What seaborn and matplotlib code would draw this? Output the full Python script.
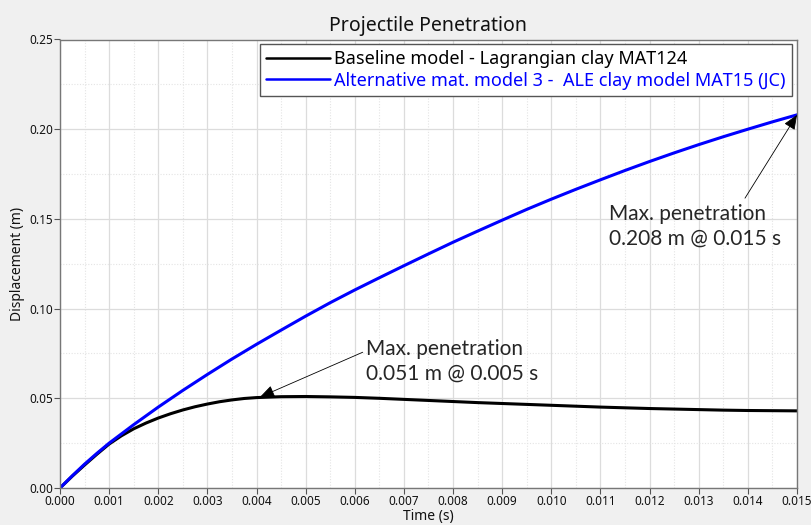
import matplotlib
matplotlib.use("Agg")
import matplotlib.pyplot as plt
from matplotlib.ticker import MultipleLocator, FormatStrFormatter
import seaborn as sns
import pandas as pd

time_base = [0.0, 0.00025, 0.0005, 0.00075, 0.001, 0.00125, 0.0015, 0.00175, 0.002, 0.00225,
             0.0025, 0.00275, 0.003, 0.00325, 0.0035, 0.00375, 0.004, 0.0045,
             0.005, 0.0055, 0.006, 0.0065, 0.007, 0.0075, 0.008, 0.0085, 0.009, 0.0095,
             0.010, 0.0105, 0.011, 0.0115, 0.012, 0.0125, 0.013, 0.0135, 0.014, 0.0145, 0.015]
baseline = [0.0, 0.0066, 0.0128, 0.0188, 0.0245, 0.0291, 0.0330, 0.0362, 0.0390, 0.0414,
            0.0435, 0.0453, 0.0468, 0.0481, 0.0491, 0.0499, 0.0504, 0.0509,
            0.0510, 0.0508, 0.0505, 0.0500, 0.0494, 0.0488, 0.0482, 0.0476, 0.0471, 0.0466,
            0.0461, 0.0456, 0.0451, 0.0447, 0.0443, 0.0440, 0.0437, 0.0434, 0.0432, 0.0431, 0.0430]
time_alt = [0.0, 0.00025, 0.0005, 0.00075, 0.001, 0.0015, 0.002, 0.0025, 0.003, 0.0035, 0.004, 0.0045,
            0.005, 0.0055, 0.006, 0.0065, 0.007, 0.0075, 0.008, 0.0085, 0.009, 0.0095,
            0.010, 0.0105, 0.011, 0.0115, 0.012, 0.0125, 0.013, 0.0135, 0.014, 0.0145, 0.015]
alternative = [0.0, 0.0068, 0.0133, 0.0193, 0.0250, 0.0353, 0.0451, 0.0544, 0.0633, 0.0719, 0.0801, 0.0880,
               0.0958, 0.1033, 0.1104, 0.1172, 0.1239, 0.1305, 0.1370, 0.1432, 0.1493, 0.1553,
               0.1610, 0.1665, 0.1718, 0.1770, 0.1820, 0.1868, 0.1914, 0.1958, 0.2000, 0.2041, 0.2080]
series_names = ["Baseline model - Lagrangian clay MAT124",
                "Alternative mat. model 3 -  ALE clay model MAT15 (JC)"]
series_colors = ["#000000", "#0000ff"]
ann_texts = ["Max. penetration\n0.051 m @ 0.005 s", "Max. penetration\n0.208 m @ 0.015 s"]
ann_points = [(0.00407, 0.0507), (0.015, 0.208)]

df = pd.concat([
    pd.DataFrame({"Time (s)": time_base, "Displacement (m)": baseline, "Model": series_names[0]}),
    pd.DataFrame({"Time (s)": time_alt, "Displacement (m)": alternative, "Model": series_names[1]}),
])

sns.set_theme(style="white")
plt.rcParams['font.family'] = ['Noto Sans', 'DejaVu Sans']

fig = plt.figure(figsize=(8.12, 5.25), dpi=100, facecolor="#f0f0f0")
ax = fig.add_axes([60/812, 1-488/525, 737/812, 448.5/525])
ax.set_facecolor("white")

sns.lineplot(data=df, x="Time (s)", y="Displacement (m)", hue="Model",
             palette=dict(zip(series_names, series_colors)), linewidth=2.2, ax=ax,
             legend=True, sort=False)

ax.set_xlim(0, 0.015)
ax.set_ylim(0, 0.25)
ax.xaxis.set_major_locator(MultipleLocator(0.001))
ax.xaxis.set_minor_locator(MultipleLocator(0.0005))
ax.yaxis.set_major_locator(MultipleLocator(0.05))
ax.yaxis.set_minor_locator(MultipleLocator(0.025))
ax.xaxis.set_major_formatter(FormatStrFormatter("%.3f"))
ax.yaxis.set_major_formatter(FormatStrFormatter("%.2f"))
ax.grid(which="major", color="#dcdcdc", linewidth=0.9, linestyle="-")
ax.grid(which="minor", color="#e4e4e4", linewidth=0.8, linestyle=(0, (1, 1.5)))
ax.set_axisbelow(True)
ax.tick_params(which="major", direction="out", length=4, width=0.8, color="#555555",
               labelsize=8.5, pad=1, left=True, bottom=True, labelcolor="#111111")
ax.tick_params(which="minor", length=0)
for s in ax.spines.values():
    s.set_color("#777777")
    s.set_linewidth(1.0)

ax.set_xlabel("Time (s)", fontsize=10, labelpad=1, color="#111111")
ax.set_ylabel("Displacement (m)", fontsize=10, labelpad=3, color="#111111")
ax.set_title("Projectile Penetration", fontsize=14, pad=6, color="#111111")

leg = ax.legend(loc="upper right", bbox_to_anchor=(0.993, 0.99), fontsize=13,
                frameon=True, fancybox=False, edgecolor="#555555", framealpha=1,
                handlelength=3.5, handletextpad=0.25, borderpad=0.35, labelspacing=0.18,
                borderaxespad=0)
leg.get_frame().set_linewidth(1.0)
for txt, col, h in zip(leg.get_texts(), series_colors, leg.get_lines()):
    txt.set_color(col)
    h.set_linewidth(1.8)

ann_fam = ['Lato', 'DejaVu Sans']
ax.annotate(ann_texts[0], xy=ann_points[0], xytext=(366, 525-339), textcoords="figure pixels",
            fontsize=15, family=ann_fam, va="top", ha="left", linespacing=1.3,
            arrowprops=dict(arrowstyle="-|>,head_length=0.6,head_width=0.25", color="black",
                            lw=0.6, shrinkA=0, shrinkB=0, relpos=(-0.01, 0.72)))
ax.annotate(ann_texts[1], xy=ann_points[1], xytext=(609, 525-204), textcoords="figure pixels",
            fontsize=15, family=ann_fam, va="top", ha="left", linespacing=1.3,
            arrowprops=dict(arrowstyle="-|>,head_length=0.6,head_width=0.25", color="black",
                            lw=0.6, shrinkA=0, shrinkB=0, relpos=(0.79, 1.13)))

fig.savefig("out.png", dpi=100, facecolor=fig.get_facecolor())
